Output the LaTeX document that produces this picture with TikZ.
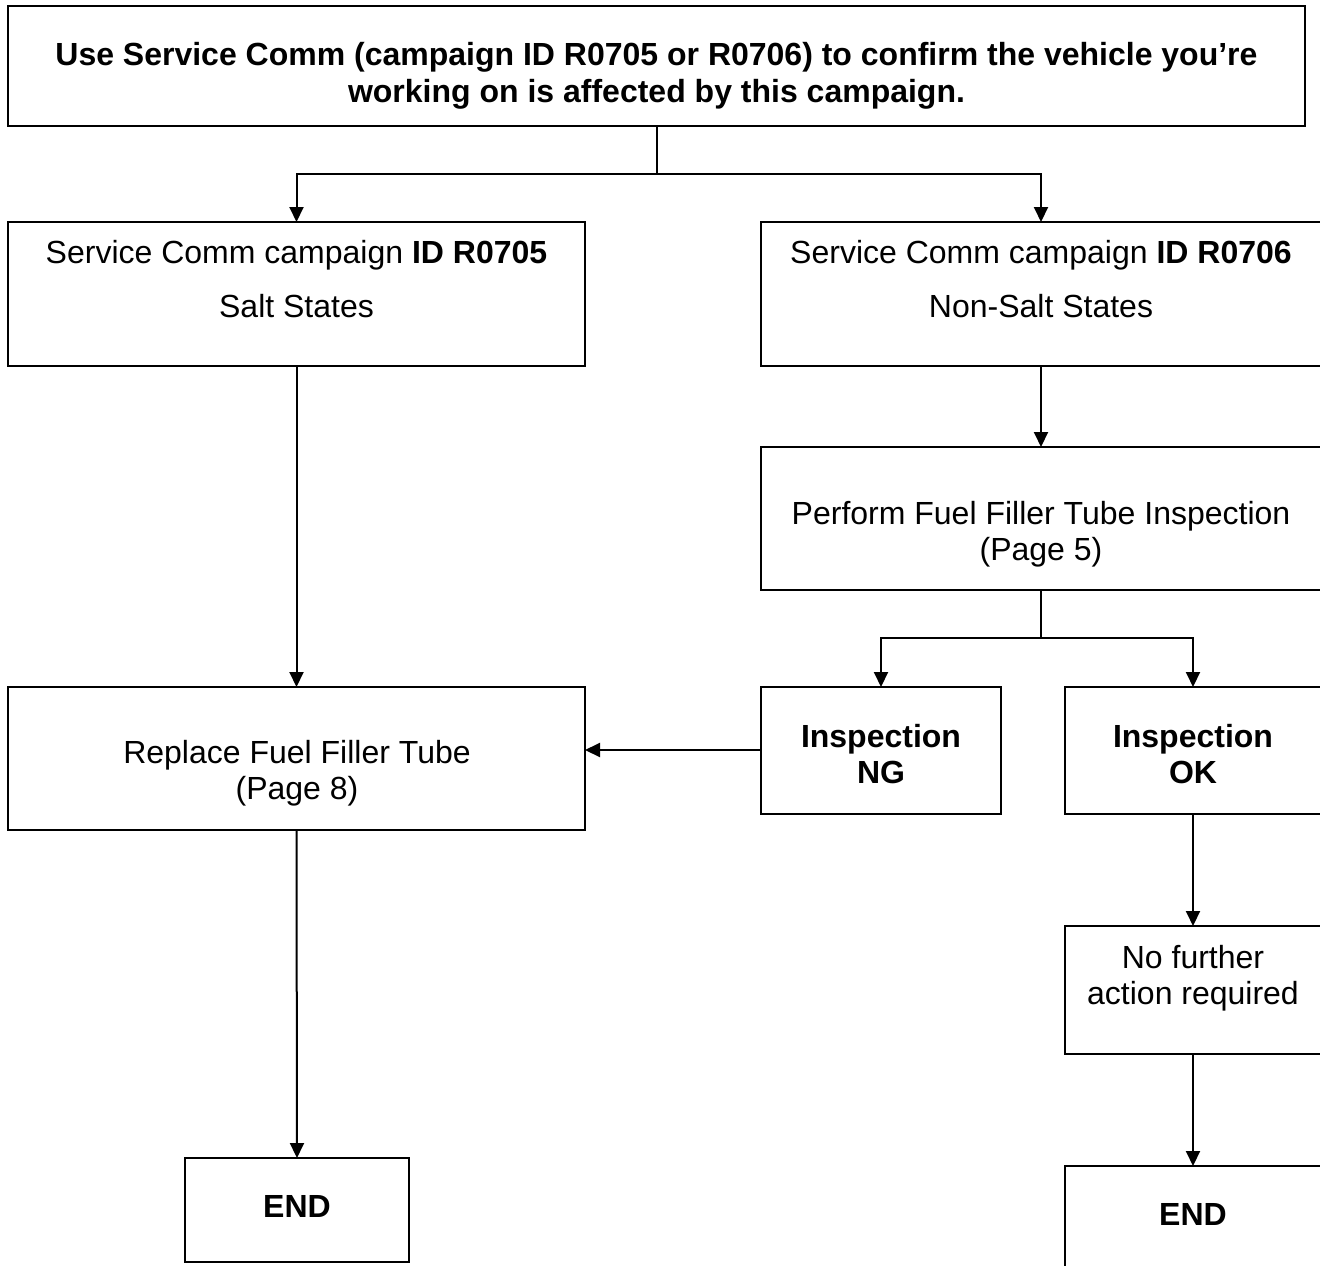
\documentclass[tikz,border=0pt]{standalone}
\usepackage{fontspec}
\setmainfont{Liberation Sans}
\usetikzlibrary{arrows.meta}
\begin{document}
\begin{tikzpicture}[x=1pt,y=-1pt,
  box/.style={draw=black,line width=2pt,fill=white,inner sep=0pt,outer sep=0pt,anchor=north west},
  txt/.style={anchor=base,inner sep=0pt,font=\fontsize{32}{37}\selectfont},
  btxt/.style={txt,font=\fontsize{32}{37}\selectfont\bfseries},
  conn/.style={line width=2pt},
  arr/.style={conn,-{Triangle[length=15pt,width=14pt]}}]
\useasboundingbox (0,0) rectangle (1320,1266);
\clip (0,0) rectangle (1320,1266);
% boxes
\node[box,minimum width=1297pt,minimum height=120pt] (top) at (8,6) {};
\node[box,minimum width=577pt,minimum height=144pt] (salt) at (8,222) {};
\node[box,minimum width=561pt,minimum height=144pt] (nonsalt) at (761,222) {};
\node[box,minimum width=561pt,minimum height=143pt] (perf) at (761,447) {};
\node[box,minimum width=240pt,minimum height=127pt] (ng) at (761,687) {};
\node[box,minimum width=257pt,minimum height=127pt] (ok) at (1065,687) {};
\node[box,minimum width=577pt,minimum height=143pt] (repl) at (8,687) {};
\node[box,minimum width=257pt,minimum height=128pt] (nfa) at (1065,926) {};
\node[box,minimum width=224pt,minimum height=104pt] (endl) at (185,1158) {};
\node[box,minimum width=257pt,minimum height=104pt] (endr) at (1065,1166) {};
% texts
\node[btxt] (t1) at (656.5,65) {Use Service Comm (campaign ID R0705 or R0706) to confirm the vehicle you’re};
\node[btxt] (t2) at (656.5,102) {working on is affected by this campaign.};
\node[txt] (s1) at (296.5,263) {Service Comm campaign \textbf{ID R0705}};
\node[txt] (s2) at (296.5,317) {Salt States};
\node[txt] (n1) at (1041,263) {Service Comm campaign \textbf{ID R0706}};
\node[txt] (n2) at (1041,317) {Non-Salt States};
\node[txt] (p1) at (1041,524) {Perform Fuel Filler Tube Inspection};
\node[txt] (p2) at (1041,560) {(Page 5)};
\node[btxt] (g1) at (881,747) {Inspection};
\node[btxt] (g2) at (881,783) {NG};
\node[btxt] (k1) at (1193,747) {Inspection};
\node[btxt] (k2) at (1193,783) {OK};
\node[txt] (r1) at (297,763) {Replace Fuel Filler Tube};
\node[txt] (r2) at (297,799) {(Page 8)};
\node[txt] (f1) at (1193,968) {No further};
\node[txt] (f2) at (1193,1004) {action required};
\node[btxt] (e1) at (297,1217) {END};
\node[btxt] (e2) at (1193,1225) {END};
% connectors
\coordinate (j1) at (657,174);
\coordinate (j2) at (1041,638);
\draw[conn] (top.south -| j1) -- (j1);
\draw[arr] (j1) -| (salt.north);
\draw[arr] (j1) -| (nonsalt.north -| j2);
\draw[arr] (nonsalt.south -| j2) -- (perf.north -| j2);
\draw[conn] (perf.south -| j2) -- (j2);
\draw[arr] (j2) -| (ng.north);
\draw[arr] (j2) -| (ok.north -| 1193,0);
\draw[arr] (ng.west |- 0,750) -- (repl.east |- 0,750);
\draw[arr] (salt.south) -- (repl.north);
\draw[arr] (repl.south) -- (endl.north);
\draw[arr] (ok.south -| 1193,0) -- (nfa.north -| 1193,0);
\draw[arr] (nfa.south -| 1193,0) -- (endr.north -| 1193,0);
\end{tikzpicture}
\end{document}
